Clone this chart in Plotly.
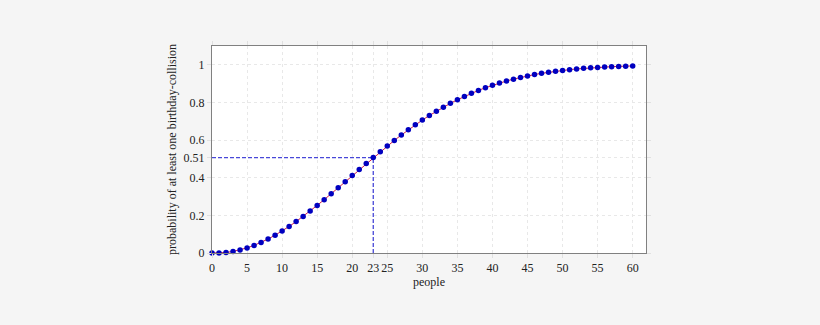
import plotly.graph_objects as go

people = list(range(0, 61))
probability = [
    0.0, 0.0, 0.00274, 0.00820, 0.01636, 0.02714, 0.04046, 0.05624, 0.07434, 0.09462,
    0.11695, 0.14114, 0.16702, 0.19441, 0.22310, 0.25290, 0.28360, 0.31501, 0.34691, 0.37912,
    0.41144, 0.44369, 0.47570, 0.50730, 0.53834, 0.56870, 0.59824, 0.62686, 0.65446, 0.68097,
    0.70632, 0.73045, 0.75335, 0.77497, 0.79532, 0.81438, 0.83218, 0.84873, 0.86407, 0.87822,
    0.89123, 0.90315, 0.91403, 0.92392, 0.93289, 0.94098, 0.94825, 0.95477, 0.96060, 0.96578,
    0.97037, 0.97443, 0.97800, 0.98114, 0.98388, 0.98626, 0.98833, 0.99012, 0.99166, 0.99299,
    0.99412,
]
x_ticks = [0, 5, 10, 15, 20, 23, 25, 30, 35, 40, 45, 50, 55, 60]
x_ticklabels = ["0", "5", "10", "15", "20", "23", "25", "30", "35", "40", "45", "50", "55", "60"]
y_ticks = [0, 0.2, 0.4, 0.507, 0.6, 0.8, 1]
y_ticklabels = ["0", "0.2", "0.4", "0.51", "0.6", "0.8", "1"]
marker_n = 23
marker_p = 0.507

FONT = "Liberation Serif, DejaVu Serif, serif"

fig = go.Figure()
fig.add_trace(go.Scatter(
    x=[0, marker_n], y=[marker_p, marker_p], mode="lines",
    line=dict(color="#4848d8", width=1.3, dash="4px,2px"), hoverinfo="skip", showlegend=False))
fig.add_trace(go.Scatter(
    x=[marker_n, marker_n], y=[0, marker_p], mode="lines",
    line=dict(color="#4848d8", width=1.3, dash="4px,2px"), hoverinfo="skip", showlegend=False))
fig.add_trace(go.Scatter(
    x=people, y=probability, mode="lines+markers",
    line=dict(color="#d0204a", width=1),
    marker=dict(color="#0000c0", size=5.5, line=dict(width=0)),
    showlegend=False, cliponaxis=False))

axis_common = dict(
    showline=True, linecolor="#808080", linewidth=1, mirror="ticks",
    ticks="outside", ticklen=4, tickcolor="#e0e0e0",
    showgrid=True, gridcolor="#e8e8e8", griddash="3px,3px", gridwidth=1,
    zeroline=False, tickfont=dict(family=FONT, size=12, color="#222222"),
)

fig.update_layout(
    width=820, height=325,
    margin=dict(l=212, r=174, t=46, b=72),
    paper_bgcolor="#f5f5f5", plot_bgcolor="#ffffff",
    font=dict(family=FONT, color="#222222"),
    xaxis=dict(range=[0, 61.9], tickvals=x_ticks, ticktext=x_ticklabels,
               title=dict(text="people", font=dict(family=FONT, size=12), standoff=2),
               **axis_common),
    yaxis=dict(range=[0, 1.1], tickvals=y_ticks, ticktext=y_ticklabels,
               title=dict(text="probability of at least one birthday-collision",
                          font=dict(family=FONT, size=12), standoff=4),
               **axis_common),
)

fig.write_html("out.html")
